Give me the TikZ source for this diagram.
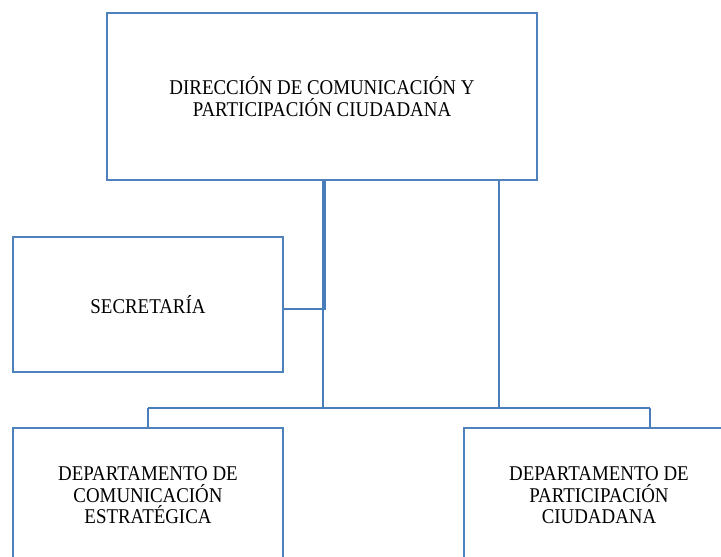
\documentclass[tikz,border=0pt]{standalone}
\usepackage{fontspec}
\setmainfont[FakeStretch=0.9]{Liberation Serif}
\definecolor{boxblue}{HTML}{4F81BD}
\definecolor{linkblue}{HTML}{4A7EBB}
\begin{document}
\begin{tikzpicture}[x=1pt,y=-1pt,
  orgbox/.style={draw=boxblue,line width=2.6pt,fill=white,align=center,inner sep=0pt,
    font=\fontsize{21}{21.5}\selectfont},
  link/.style={draw=linkblue,line width=2.5pt}]
\useasboundingbox (0,0) rectangle (721,557);
\clip (0,0) rectangle (721,557);
\node[orgbox,minimum width=430pt,minimum height=167pt] (dir) at (322,96.5)
  {DIRECCIÓN DE COMUNICACIÓN Y\\PARTICIPACIÓN CIUDADANA};
\node[orgbox,minimum width=270pt,minimum height=135pt] (sec) at (148,304.5)
  {SECRETARÍA};
\node[orgbox,minimum width=270pt,minimum height=135pt] (dce) at (148,495.5)
  {DEPARTAMENTO DE\\COMUNICACIÓN\\ESTRATÉGICA};
\node[orgbox,minimum width=270pt,minimum height=135pt] (dpc) at (599,495.5)
  {DEPARTAMENTO DE\\PARTICIPACIÓN\\CIUDADANA};
\coordinate (ja) at (323,408);
\coordinate (jb) at (499,408);
\coordinate (jc) at (323.6,309);
\coordinate (bl) at (148,408);
\coordinate (br) at (650,408);
% direction to bus
\draw[link] (dir.south -| ja) -- (ja);
\draw[link] (dir.south -| jb) -- (jb);
% direction to secretaria
\draw[link,line width=4pt] (dir.south -| jc) -- ([yshift=-1.2pt]jc);
\draw[link] (jc) -- (jc -| sec.east);
% bus
\draw[link] (bl) -- (br);
\draw[link] (bl) -- (bl |- dce.north);
\draw[link] (br) -- (br |- dpc.north);
\end{tikzpicture}
\end{document}
